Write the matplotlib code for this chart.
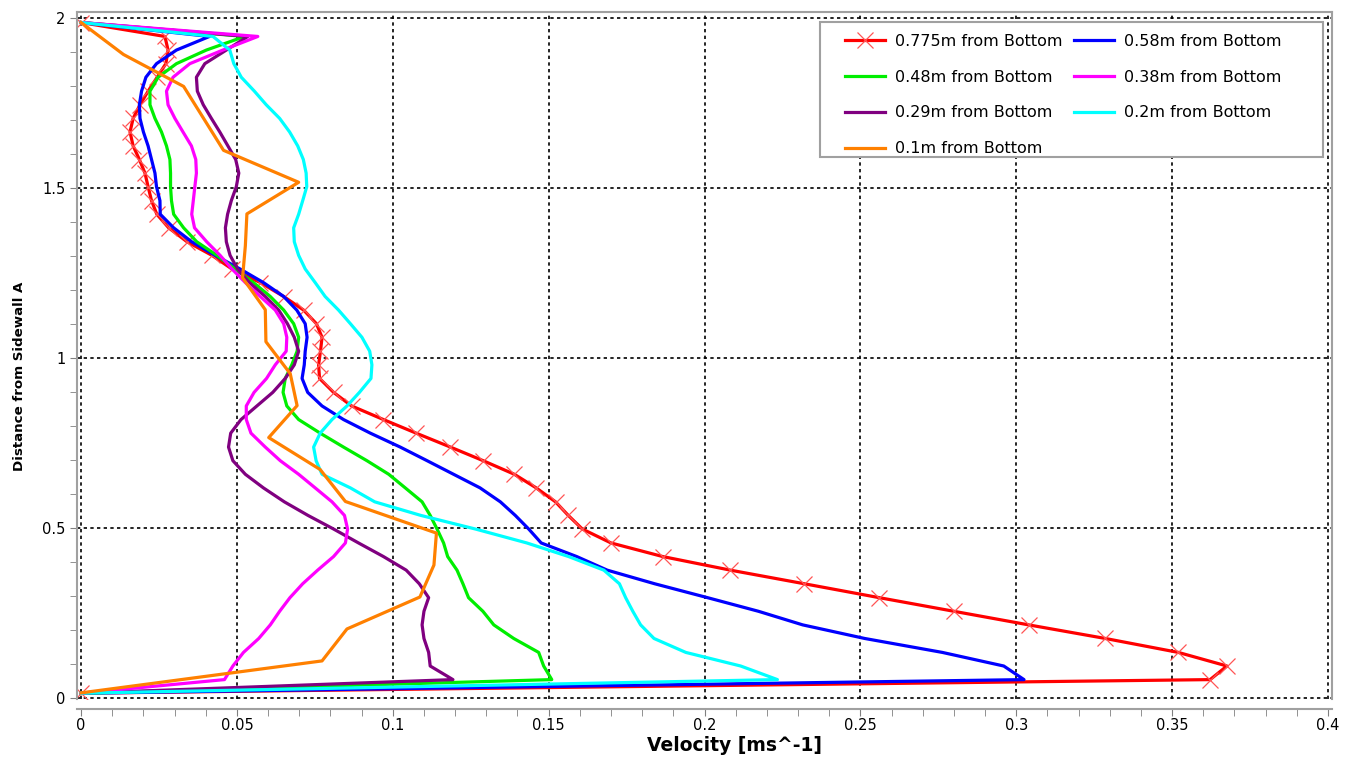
import matplotlib
matplotlib.use("Agg")
import matplotlib.pyplot as plt
from matplotlib.patches import Rectangle
from matplotlib.ticker import MultipleLocator, FormatStrFormatter

# distance from sidewall A for the probe positions (50 points, orange series has 22)
heights = [0.014, 0.054, 0.094, 0.134, 0.175, 0.215, 0.255, 0.295, 0.336, 0.376,
           0.416, 0.456, 0.497, 0.537, 0.577, 0.618, 0.658, 0.698, 0.738, 0.779,
           0.819, 0.859, 0.899, 0.940, 0.980, 1.020, 1.061, 1.101, 1.141, 1.181,
           1.222, 1.262, 1.302, 1.342, 1.383, 1.423, 1.463, 1.504, 1.544, 1.584,
           1.624, 1.665, 1.705, 1.745, 1.785, 1.826, 1.866, 1.906, 1.946, 1.987]
heights_01 = [0.015, 0.109, 0.203, 0.297, 0.391, 0.485, 0.578, 0.672, 0.766, 0.860, 0.954,
              1.048, 1.142, 1.236, 1.330, 1.424, 1.517, 1.611, 1.705, 1.799, 1.893, 1.987]

# velocities [m/s]
v_0775 = [0.0, 0.3622, 0.3676, 0.352, 0.3286, 0.304, 0.280, 0.2561, 0.232, 0.2083,
          0.1866, 0.170, 0.1608, 0.1563, 0.1522, 0.146, 0.139, 0.129, 0.1185, 0.1075,
          0.097, 0.0868, 0.081, 0.0765, 0.0762, 0.0768, 0.0773, 0.0755, 0.0714, 0.065,
          0.0575, 0.0484, 0.042, 0.034, 0.0281, 0.0243, 0.0226, 0.0215, 0.0205, 0.0187,
          0.0167, 0.0157, 0.0167, 0.0189, 0.0215, 0.0244, 0.0272, 0.0279, 0.0269, 0.0]
v_058 = [0.0, 0.3025, 0.296, 0.2763, 0.2514, 0.2315, 0.2173, 0.201, 0.184, 0.1688,
         0.159, 0.1476, 0.1436, 0.1393, 0.1345, 0.128, 0.1195, 0.111, 0.1024, 0.0928,
         0.0842, 0.0773, 0.0727, 0.0709, 0.0716, 0.0719, 0.0725, 0.0719, 0.0692, 0.065,
         0.0585, 0.051, 0.043, 0.0355, 0.0297, 0.0254, 0.0253, 0.0242, 0.0237, 0.0226,
         0.0215, 0.020, 0.0189, 0.0187, 0.0194, 0.0208, 0.0242, 0.0306, 0.0412, 0.0]
v_048 = [0.0, 0.151, 0.1484, 0.1468, 0.1388, 0.1324, 0.1289, 0.1243, 0.1225, 0.1206,
         0.1176, 0.1163, 0.1142, 0.112, 0.1094, 0.104, 0.0987, 0.0917, 0.0842, 0.0767,
         0.0698, 0.066, 0.0648, 0.0655, 0.0676, 0.0693, 0.0698, 0.0682, 0.065, 0.0607,
         0.0553, 0.0494, 0.0436, 0.0371, 0.0329, 0.0297, 0.029, 0.0287, 0.0287, 0.0285,
         0.0274, 0.0258, 0.0237, 0.0221, 0.0221, 0.0247, 0.0306, 0.0402, 0.0525, 0.0]
v_038 = [0.0, 0.046, 0.0487, 0.0521, 0.057, 0.0607, 0.0637, 0.067, 0.0711, 0.0759,
         0.081, 0.0848, 0.0855, 0.0845, 0.0805, 0.0751, 0.0698, 0.0639, 0.0591, 0.0545,
         0.053, 0.053, 0.0555, 0.0595, 0.0623, 0.0658, 0.066, 0.065, 0.0623, 0.0575,
         0.0527, 0.0484, 0.0446, 0.0403, 0.0364, 0.0355, 0.036, 0.0365, 0.037, 0.0368,
         0.0354, 0.0327, 0.0301, 0.0279, 0.0274, 0.0295, 0.0349, 0.0455, 0.0567, 0.0]
v_029 = [0.0, 0.1193, 0.112, 0.1115, 0.110, 0.1094, 0.110, 0.1115, 0.1085, 0.1043,
         0.097, 0.089, 0.081, 0.0728, 0.0652, 0.0585, 0.0527, 0.0487, 0.0473, 0.048,
         0.0513, 0.0564, 0.0615, 0.0655, 0.0684, 0.0698, 0.0684, 0.0662, 0.0634, 0.0591,
         0.054, 0.0502, 0.0478, 0.0466, 0.0463, 0.047, 0.0482, 0.0498, 0.0506, 0.0496,
         0.0471, 0.0445, 0.0418, 0.0392, 0.0373, 0.037, 0.0397, 0.0466, 0.0535, 0.0]
v_02 = [0.0, 0.2234, 0.2116, 0.194, 0.1838, 0.1795, 0.177, 0.1747, 0.1727, 0.1677,
        0.1564, 0.143, 0.1265, 0.109, 0.0942, 0.0864, 0.0773, 0.0754, 0.0746, 0.0767,
        0.0805, 0.0853, 0.0893, 0.093, 0.0933, 0.0926, 0.0901, 0.0864, 0.0826, 0.0783,
        0.0751, 0.0719, 0.0698, 0.0684, 0.0682, 0.0698, 0.0711, 0.0724, 0.0722, 0.0713,
        0.0695, 0.0669, 0.0637, 0.0594, 0.0556, 0.0514, 0.049, 0.0477, 0.0423, 0.0]
v_01 = [0.0, 0.0773, 0.0853, 0.1087, 0.1132, 0.114, 0.0848, 0.0767, 0.0602, 0.0693, 0.0671,
        0.0593, 0.0591, 0.0518, 0.0527, 0.0532, 0.0698, 0.0457, 0.0393, 0.0329, 0.0136, 0.0]

fig = plt.figure(figsize=(13.56, 7.63), dpi=100)
ax = fig.add_axes([0.0568, 0.0839, 0.9255, 0.9004])

lw = 2.3
l1, = ax.plot(v_0775, heights, color="#ff0000", lw=lw, marker="x", markersize=11,
              markeredgecolor="#ff5555", markeredgewidth=0.9, label="0.775m from Bottom")
l2, = ax.plot(v_058, heights, color="#0000ff", lw=lw, label="0.58m from Bottom")
l3, = ax.plot(v_048, heights, color="#00ee00", lw=lw, label="0.48m from Bottom")
l5, = ax.plot(v_029, heights, color="#800080", lw=lw, label="0.29m from Bottom")
l4, = ax.plot(v_038, heights, color="#ff00ff", lw=lw, label="0.38m from Bottom")
l6, = ax.plot(v_02, heights, color="#00ffff", lw=lw, label="0.2m from Bottom")
l7, = ax.plot(v_01, heights_01, color="#ff8000", lw=lw, label="0.1m from Bottom")

ax.set_xlim(-0.0013, 0.4013)
ax.set_ylim(-0.003, 2.018)
ax.xaxis.set_major_locator(MultipleLocator(0.05))
ax.xaxis.set_minor_locator(MultipleLocator(0.01))
ax.yaxis.set_major_locator(MultipleLocator(0.5))
ax.yaxis.set_minor_locator(MultipleLocator(0.1))
ax.xaxis.set_major_formatter(FormatStrFormatter("%g"))
ax.yaxis.set_major_formatter(FormatStrFormatter("%g"))

ax.set_axisbelow(True)
ax.grid(True, which="major", color="black", linestyle=(0, (2, 2)), linewidth=1.2)

for s in ax.spines.values():
    s.set_color("#a0a0a0")
    s.set_linewidth(1.5)
ax.spines["bottom"].set_position(("outward", 7))
ax.tick_params(which="both", direction="out", color="#808080", labelsize=10.5, length=5)
ax.tick_params(axis="x", which="both", pad=1.5)

ax.set_xlabel("Velocity [ms^-1]", fontsize=13.5, fontweight="bold")
ax.xaxis.set_label_coords(0.5235, -0.054)
ax.set_ylabel("Distance from Sidewall A", fontsize=9.6, fontweight="bold")
ax.yaxis.set_label_coords(-0.041, 0.469)

# legend box drawn separately so its padding matches the original
box = Rectangle((0.592, 0.789), 0.4008, 0.1964, transform=ax.transAxes,
                facecolor="white", edgecolor="#a0a0a0", lw=1.5, zorder=4.5)
ax.add_patch(box)
handles = [l1, l3, l5, l7, l2, l4, l6]
leg = ax.legend(handles=handles, labels=[h.get_label() for h in handles], ncol=2,
                loc="upper left", bbox_to_anchor=(0.612, 0.968), borderaxespad=0,
                fontsize=11.5, frameon=False, handlelength=2.5, handletextpad=0.65,
                columnspacing=0.7, labelspacing=1.3, borderpad=0)

fig.savefig("out.png", dpi=100)
